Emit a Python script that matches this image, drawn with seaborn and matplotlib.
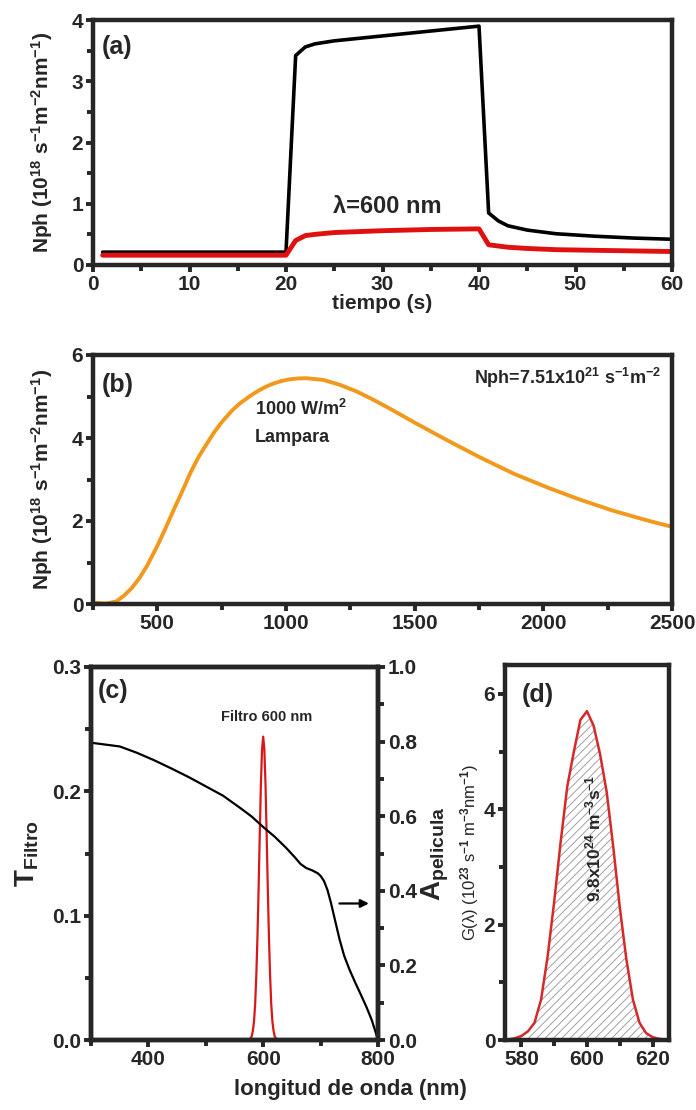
import matplotlib
matplotlib.use("Agg")
import matplotlib.pyplot as plt
from matplotlib import font_manager
from matplotlib.ticker import MultipleLocator, FormatStrFormatter
import seaborn as sns

# ---------------- data ----------------
# (a) time series
t_a = [1, 20, 21, 22, 23, 25, 30, 35, 40, 41, 42, 43, 45, 48, 52, 56, 60]
nph_white = [0.21, 0.21, 3.42, 3.56, 3.61, 3.66, 3.74, 3.82, 3.90, 0.85, 0.72, 0.64, 0.57, 0.51, 0.47, 0.44, 0.42]
nph_600 = [0.16, 0.16, 0.40, 0.48, 0.50, 0.53, 0.56, 0.58, 0.59, 0.33, 0.31, 0.29, 0.27, 0.25, 0.24, 0.23, 0.22]

# (b) lamp spectrum
wl_b = [250, 300, 340, 370, 400, 430, 460, 500, 530, 560, 600, 630, 660, 690, 720, 750, 790, 820,
        860, 890, 920, 950, 980, 1010, 1045, 1080, 1145, 1210, 1275, 1340, 1400, 1500, 1625, 1755,
        1885, 2015, 2140, 2270, 2400, 2500]
nph_lamp = [0.03, 0.01, 0.06, 0.2, 0.38, 0.62, 0.92, 1.4, 1.8, 2.22, 2.76, 3.18, 3.54, 3.84, 4.13,
            4.38, 4.66, 4.83, 5.01, 5.13, 5.23, 5.31, 5.37, 5.41, 5.435, 5.44, 5.40, 5.28, 5.12,
            4.92, 4.72, 4.37, 3.95, 3.53, 3.14, 2.81, 2.52, 2.25, 2.02, 1.86]

# (c) film absorbance (right axis) and filter transmittance (left axis)
wl_c = [300, 350, 380, 410, 440, 470, 500, 530, 560, 580, 600, 620, 640, 655, 665, 675, 685, 695,
        700, 706, 712, 718, 725, 733, 741, 750, 760, 770, 780, 789, 795, 800]
a_film = [0.797, 0.787, 0.77, 0.75, 0.728, 0.705, 0.68, 0.655, 0.622, 0.599, 0.571, 0.545, 0.515,
          0.49, 0.472, 0.461, 0.455, 0.447, 0.44, 0.426, 0.402, 0.368, 0.322, 0.27, 0.226, 0.19,
          0.155, 0.122, 0.088, 0.054, 0.025, 0.0]
wl_f = [300, 576, 580, 582, 584, 586, 588, 590, 592, 594, 596, 598, 600, 602, 604, 606, 608, 610,
        612, 614, 616, 618, 620, 624, 800]
t_filter = [0.0, 0.0, 0.003, 0.0075, 0.015, 0.029, 0.052, 0.083, 0.122, 0.165, 0.206, 0.234, 0.244,
            0.234, 0.206, 0.165, 0.122, 0.083, 0.052, 0.029, 0.015, 0.0075, 0.003, 0.0, 0.0]

# (d) generation rate
wl_d = [575, 578, 580, 582, 584, 586, 588, 590, 592, 594, 596, 598, 600, 602, 604, 606, 608, 610,
        612, 614, 616, 618, 620, 622, 625]
g_rate = [0.0, 0.03, 0.07, 0.15, 0.3, 0.7, 1.45, 2.4, 3.45, 4.4, 5.0, 5.55, 5.7, 5.45, 4.95, 4.3,
          3.35, 2.3, 1.4, 0.7, 0.3, 0.12, 0.05, 0.02, 0.0]

# ---------------- style ----------------
sns.set_style("ticks")
avail = {f.name for f in font_manager.fontManager.ttflist}
fam = "Liberation Sans Narrow" if "Liberation Sans Narrow" in avail else "Liberation Sans"
plt.rcParams["font.family"] = [fam, "DejaVu Sans"]
plt.rcParams["font.weight"] = "bold"
plt.rcParams["axes.labelweight"] = "bold"
plt.rcParams["mathtext.fontset"] = "custom"
plt.rcParams["mathtext.rm"] = fam + ":bold"
plt.rcParams["mathtext.bf"] = fam + ":bold"
plt.rcParams["mathtext.it"] = fam + ":bold"
plt.rcParams["mathtext.default"] = "bf"
plt.rcParams["hatch.linewidth"] = 0.7

W, H = 696, 1110
fig = plt.figure(figsize=(W / 100, H / 100), dpi=100)


def box(l, t, r, b):
    return [l / W, 1 - b / H, (r - l) / W, (b - t) / H]


def style(ax, fs=15):
    for s in ax.spines.values():
        s.set_linewidth(3.2)
        s.set_visible(True)
    ax.tick_params(which="major", direction="out", length=5, width=2.8, labelsize=fs, pad=2)
    ax.tick_params(which="minor", direction="out", length=4, width=2.8)
    for lab in ax.get_xticklabels() + ax.get_yticklabels():
        lab.set_fontweight("bold")


# (a)
ax_a = fig.add_axes(box(93, 20, 672, 265))
sns.lineplot(x=t_a, y=nph_white, ax=ax_a, color="black", lw=2.6)
sns.lineplot(x=t_a, y=nph_600, ax=ax_a, color="#e01010", lw=3.5)
ax_a.set_xlim(0, 60)
ax_a.set_ylim(0, 4)
ax_a.xaxis.set_major_locator(MultipleLocator(10))
ax_a.xaxis.set_minor_locator(MultipleLocator(5))
ax_a.yaxis.set_major_locator(MultipleLocator(1))
ax_a.yaxis.set_minor_locator(MultipleLocator(0.5))
style(ax_a)
ax_a.set_xlabel("tiempo (s)", fontsize=15, labelpad=0)
ax_a.set_ylabel(r"Nph (10$^{18}$ s$^{-1}$m$^{-2}$nm$^{-1}$)", fontsize=15, labelpad=12)
ax_a.text(0.015, 0.89, "(a)", transform=ax_a.transAxes, fontsize=18, ha="left", va="center")
ax_a.text(30.5, 0.95, "λ=600 nm", fontsize=17, ha="center", va="center")

# (b)
ax_b = fig.add_axes(box(93, 355, 672, 604))
sns.lineplot(x=wl_b, y=nph_lamp, ax=ax_b, color="#f0991c", lw=2.8)
ax_b.set_xlim(250, 2500)
ax_b.set_ylim(0, 6)
ax_b.set_xticks([500, 1000, 1500, 2000, 2500])
ax_b.xaxis.set_minor_locator(MultipleLocator(250))
ax_b.yaxis.set_major_locator(MultipleLocator(2))
ax_b.yaxis.set_minor_locator(MultipleLocator(1))
style(ax_b)
ax_b.set_xlabel("")
ax_b.set_ylabel(r"Nph (10$^{18}$ s$^{-1}$m$^{-2}$nm$^{-1}$)", fontsize=15, labelpad=12)
ax_b.text(0.015, 0.88, "(b)", transform=ax_b.transAxes, fontsize=18, ha="left", va="center")
ax_b.text(2460, 5.45, r"Nph=7.51x10$^{21}$ s$^{-1}$m$^{-2}$", fontsize=13, ha="right", va="center")
ax_b.text(880, 4.7, r"1000 W/m$^{2}$", fontsize=13, ha="left", va="center")
ax_b.text(880, 4.0, "Lampara", fontsize=13, ha="left", va="center")

# (c)
ax_c = fig.add_axes(box(91, 667, 378, 1040))
sns.lineplot(x=wl_f, y=t_filter, ax=ax_c, color="#d81818", lw=1.6)
ax_c.set_xlim(300, 800)
ax_c.set_ylim(0, 0.3)
ax_c.set_xticks([400, 600, 800])
ax_c.xaxis.set_minor_locator(MultipleLocator(100))
ax_c.yaxis.set_major_locator(MultipleLocator(0.1))
ax_c.yaxis.set_minor_locator(MultipleLocator(0.05))
ax_c.yaxis.set_major_formatter(FormatStrFormatter("%.1f"))
style(ax_c)
ax_c.set_xlabel("")
ax_c.set_ylabel(r"T$_{\mathrm{Filtro}}$", fontsize=20, labelpad=8)
ax_c2 = ax_c.twinx()
sns.lineplot(x=wl_c, y=a_film, ax=ax_c2, color="black", lw=1.6)
ax_c2.set_ylim(0, 1.0)
ax_c2.yaxis.set_major_locator(MultipleLocator(0.2))
ax_c2.yaxis.set_minor_locator(MultipleLocator(0.1))
ax_c2.yaxis.set_major_formatter(FormatStrFormatter("%.1f"))
style(ax_c2)
ax_c2.set_ylabel(r"A$_{\mathrm{pelicula}}$", fontsize=20, labelpad=2)
ax_c.text(312, 0.281, "(c)", fontsize=18, ha="left", va="center")
ax_c.text(606, 0.26, "Filtro 600 nm", fontsize=10.5, ha="center", va="center")
ax_c2.annotate("", xy=(789, 0.366), xytext=(728, 0.366),
               arrowprops=dict(arrowstyle="-|>", color="black", lw=1.6, mutation_scale=12))

# (d)
ax_d = fig.add_axes(box(505, 665, 669, 1040))
ax_d.fill_between(wl_d, g_rate, 0, facecolor="none", hatch="////", edgecolor="#a0a0a0", linewidth=0)
sns.lineplot(x=wl_d, y=g_rate, ax=ax_d, color="#d42a2a", lw=1.8)
ax_d.set_xlim(575, 625)
ax_d.set_ylim(0, 6.5)
ax_d.set_xticks([580, 600, 620])
ax_d.xaxis.set_minor_locator(MultipleLocator(10))
ax_d.yaxis.set_major_locator(MultipleLocator(2))
ax_d.yaxis.set_minor_locator(MultipleLocator(1))
style(ax_d)
ax_d.set_xlabel("")
ax_d.set_ylabel(r"G(λ) (10$^{23}$ s$^{-1}$ m$^{-3}$nm$^{-1}$)", fontsize=12, labelpad=2, fontweight="normal")
ax_d.text(0.1, 0.92, "(d)", transform=ax_d.transAxes, fontsize=18, ha="left", va="center")
ax_d.text(602, 3.5, r"9.8x10$^{24}$ m$^{-3}$s$^{-1}$", fontsize=12.5, ha="center", va="center", rotation=90)

fig.text(350 / W, 1 - 1090 / H, "longitud de onda (nm)", fontsize=16, fontweight="bold", ha="center", va="center")

fig.savefig("out.png", dpi=100)
